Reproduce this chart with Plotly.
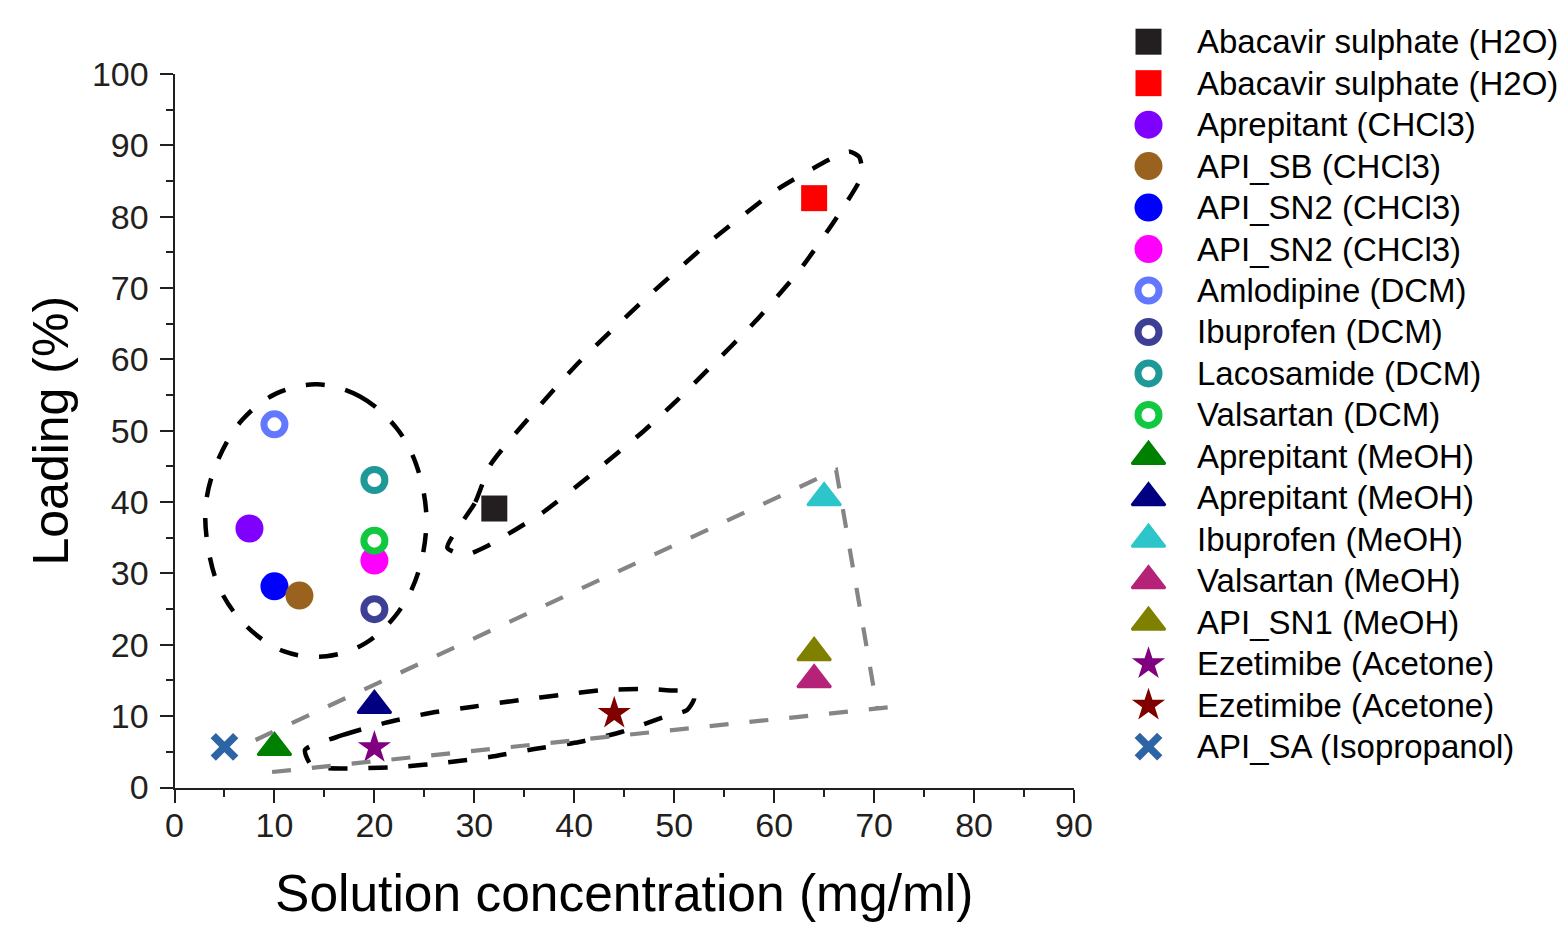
import plotly.graph_objects as go

W, H = 1558, 927
FONT = "Liberation Sans, Arial, Helvetica, sans-serif"
AXIS_COLOR = "#231f20"

# ---------------- data ----------------
series_names = [
    "Abacavir sulphate (H2O)", "Abacavir sulphate (H2O)", "Aprepitant (CHCl3)", "API_SB (CHCl3)",
    "API_SN2 (CHCl3)", "API_SN2 (CHCl3)", "Amlodipine (DCM)", "Ibuprofen (DCM)", "Lacosamide (DCM)",
    "Valsartan (DCM)", "Aprepitant (MeOH)", "Aprepitant (MeOH)", "Ibuprofen (MeOH)", "Valsartan (MeOH)",
    "API_SN1 (MeOH)", "Ezetimibe (Acetone)", "Ezetimibe (Acetone)", "API_SA (Isopropanol)",
]
concentration = [32, 64, 7.5, 12.5, 10, 20, 10, 20, 20, 20, 10, 20, 65, 64, 64, 20, 44, 5]
loading = [39.1, 82.6, 36.3, 26.9, 28.2, 31.8, 50.9, 25.0, 43.1, 34.6, 5.6, 11.5, 40.6, 15.1, 18.9, 5.6, 10.4, 5.7]
colors = ["#231f20", "#ff0000", "#8000ff", "#99621f", "#0000ff", "#ff00ff", "#6478ff", "#3c3f94",
          "#1f9898", "#12c840", "#008000", "#000080", "#2cc5c9", "#b52379", "#808000", "#800080",
          "#800000", "#2d64a5"]
kinds = ["square", "square", "circle", "circle", "circle", "circle", "ring", "ring", "ring", "ring",
         "triangle", "triangle", "triangle", "triangle", "triangle", "star", "star", "x"]
draw_order = [0, 1, 2, 4, 3, 5, 6, 7, 8, 9, 10, 11, 12, 13, 14, 15, 16, 17]

x_ticks = [0, 10, 20, 30, 40, 50, 60, 70, 80, 90]
y_ticks = [0, 10, 20, 30, 40, 50, 60, 70, 80, 90, 100]

# hand-drawn dashed group outlines (data coordinates)
ellipse_x = [14.26, 18.56, 22.2, 24.2, 25.2, 24.4, 22.4, 19.07, 15.2, 10.9, 7.06, 4.55, 3.35, 3.15, 4.35, 6.76, 10.16, 14.26]
ellipse_y = [56.5, 54.8, 50.4, 45.2, 37.9, 30.2, 24.6, 20.2, 18.4, 19.1, 22.8, 27.8, 33.7, 39.9, 45.9, 51.5, 55.2, 56.5]
upper_x = [27.3, 30.1, 31.6, 35.9, 40.4, 46.8, 53.4, 60.4, 66.1, 67.6, 68.5, 68.8, 66.4, 62.6, 58.1, 53.4, 50.3, 46.9, 41.9, 36.8, 31.1, 29.1, 27.3]
upper_y = [33.6, 40.0, 45.2, 52.5, 59.5, 68.1, 76.3, 83.9, 88.4, 89.1, 88.4, 85.9, 80.2, 72.6, 65.3, 58.6, 54.3, 49.9, 44.1, 38.5, 33.7, 32.6, 33.6]
lower_x = [13.06, 16.87, 21.07, 25.58, 29.88, 34.58, 38.59, 43.09, 47.6, 49.7, 51.6, 52.0, 51.3, 49.0, 44.7, 40.5, 36.0, 31.5, 27.0, 22.8, 18.27, 13.76, 13.06]
lower_y = [5.26, 7.36, 9.05, 10.45, 11.33, 12.27, 12.97, 13.67, 13.8, 13.6, 13.5, 12.5, 10.87, 9.9, 7.78, 6.38, 5.4, 4.28, 3.48, 2.92, 2.69, 3.02, 5.26]
gray_x = [8.11, 66.2, 70.3, None, 9.76, 72.6]
gray_y = [6.66, 44.5, 11.15, None, 2.17, 11.4]

# ---------------- styling helpers ----------------
def marker_style(kind, color):
    if kind == "square":
        return dict(symbol="square", size=26, color=color, line=dict(width=0))
    if kind == "circle":
        return dict(symbol="circle", size=28, color=color, line=dict(width=0))
    if kind == "ring":
        return dict(symbol="circle", size=21, color="white", line=dict(width=7, color=color))
    if kind == "triangle":
        return dict(symbol="triangle-up", size=29, color=color, line=dict(width=2.5, color=color))
    if kind == "star":
        return dict(symbol="star", size=25, color=color, line=dict(width=0))
    return dict(symbol="x-thin-open", size=22.5, color=color, line=dict(width=7.5, color=color))


fig = go.Figure()

# data markers
for i in draw_order:
    fig.add_trace(go.Scatter(
        x=[concentration[i]], y=[loading[i]], mode="markers", name=series_names[i],
        marker=marker_style(kinds[i], colors[i]), cliponaxis=False, showlegend=False,
        xaxis="x", yaxis="y",
    ))

# dashed outlines
dash_black = "19px,21px"
fig.add_trace(go.Scatter(x=ellipse_x, y=ellipse_y, mode="lines", showlegend=False, hoverinfo="skip",
                         line=dict(color="black", width=4.5, dash=dash_black, shape="spline", smoothing=1.0)))
fig.add_trace(go.Scatter(x=upper_x, y=upper_y, mode="lines", showlegend=False, hoverinfo="skip",
                         line=dict(color="black", width=4.5, dash=dash_black, shape="spline", smoothing=0.6)))
fig.add_trace(go.Scatter(x=lower_x, y=lower_y, mode="lines", showlegend=False, hoverinfo="skip",
                         line=dict(color="black", width=4.5, dash=dash_black, shape="spline", smoothing=0.6)))
fig.add_trace(go.Scatter(x=gray_x, y=gray_y, mode="lines", showlegend=False, hoverinfo="skip",
                         connectgaps=False,
                         line=dict(color="#858585", width=4.2, dash=dash_black)))

# custom legend (pixel-coordinate helper axes)
LEG_X0 = 1100
row0, row_gap = 41.7, 41.47
marker_x, text_x = 1148.5, 1195
annotations = []
for i, name in enumerate(series_names):
    yy = row0 + i * row_gap
    fig.add_trace(go.Scatter(
        x=[marker_x], y=[yy], mode="markers", marker=marker_style(kinds[i], colors[i]),
        xaxis="x2", yaxis="y2", showlegend=False, hoverinfo="skip", cliponaxis=False,
    ))
    annotations.append(dict(
        x=text_x, y=yy, xref="x2", yref="y2", text=name, showarrow=False,
        xanchor="left", yanchor="middle", font=dict(family=FONT, size=33, color="black"),
    ))

axis_common = dict(
    showline=True, linecolor=AXIS_COLOR, linewidth=2, mirror=False, automargin=False,
    ticks="outside", ticklen=13, tickwidth=2, tickcolor=AXIS_COLOR,
    showgrid=False, zeroline=False,
    tickfont=dict(family=FONT, size=34, color=AXIS_COLOR),
    minor=dict(ticks="outside", ticklen=7, tickwidth=2, tickcolor=AXIS_COLOR, dtick=5, showgrid=False),
)

fig.update_layout(
    width=W, height=H,
    margin=dict(l=0, r=0, t=0, b=0, pad=0),
    paper_bgcolor="white", plot_bgcolor="rgba(0,0,0,0)",
    showlegend=False,
    font=dict(family=FONT, color="black"),
    xaxis=dict(
        domain=[174.5 / W, 1074 / W], range=[0, 90], anchor="y",
        tickmode="array", tickvals=x_ticks, ticktext=[str(v) for v in x_ticks],
        ticklabelstandoff=-6,
        title=dict(text="Solution concentration (mg/ml)", font=dict(family=FONT, size=51.5, color="black"), standoff=32),
        **axis_common,
    ),
    yaxis=dict(
        domain=[(H - 787.5) / H, (H - 74) / H], range=[0, 100], anchor="x",
        tickmode="array", tickvals=y_ticks, ticktext=[str(v) for v in y_ticks],
        ticklabelstandoff=4,
        title=dict(text="Loading (%)", font=dict(family=FONT, size=50, color="black"), standoff=7),
        **axis_common,
    ),
    xaxis2=dict(domain=[LEG_X0 / W, 1], range=[LEG_X0, W], visible=False, anchor="y2",
                fixedrange=True, automargin=False),
    yaxis2=dict(domain=[0, 1], range=[H, 0], visible=False, anchor="x2", fixedrange=True, automargin=False),
    annotations=annotations,
)

fig.write_html("out.html", config={"displayModeBar": False},
               post_script="document.body.style.margin='0';")
